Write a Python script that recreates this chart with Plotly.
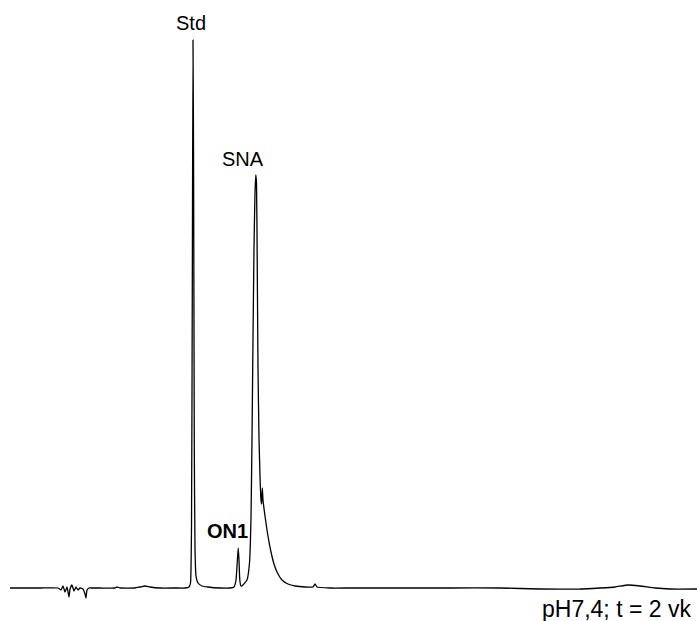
import plotly.graph_objects as go

# retention position (arbitrary units) and detector signal (arbitrary units)
time = [10, 40, 58, 61, 63, 65, 67, 69, 70, 72, 74, 76, 78, 80, 83, 85, 86, 87, 89, 92, 100, 115, 117, 120,
        135, 140, 145, 150, 160, 175, 185, 189, 190.5, 191.5, 192.3, 193.0, 193.6, 194.3, 195.0, 196.0, 198, 202, 208,
        220, 230, 234, 236, 237.2, 238.2, 239.0, 239.8, 241, 243, 247, 249.5, 251, 252, 253, 254, 255, 255.8,
        256.5, 257.2, 258.0, 259.0, 260.0, 261.0, 261.6, 262.3, 263.0, 265, 267, 269, 271, 274, 277, 282, 288, 295, 305,
        313, 315, 317, 330, 350, 400, 450, 500, 540, 580, 600, 615, 628, 640, 655, 670, 697]
signal = [0, 0, 0, -2, 2, -4, 1, -9, -1, 3, -3, 1, -2, 0, -1, -6, -10, -2, 0, 0, 0, 0, 1, 0,
          0, 1, 2, 1, 0, 0, 0, 1, 5, 60, 300, 548, 420, 140, 40, 12, 5, 2, 1,
          0, 0, 1, 8, 25, 40, 28, 8, 2, 3, 8, 25, 70, 150, 250, 340, 395, 413,
          405, 330, 220, 150, 112, 88, 84, 100, 88, 72, 58, 46, 36, 24, 16, 8, 4, 2, 1,
          1, 4, 1, 0, 0, 0, 0, 0, -1, -1, 0, 1, 3, 2, 0, -1, -1]

labels = ["Std", "SNA", "ON1"]
label_x = [191, 243, 227]
label_y = [565, 429, 57]
label_bold = [False, False, True]
footer = "pH7,4; t = 2 vk"

FONT = "Liberation Sans, Arial"

fig = go.Figure()
fig.add_trace(go.Scatter(x=time, y=signal, mode="lines",
                         line=dict(color="black", width=1.3, shape="spline", smoothing=0.4),
                         hoverinfo="skip", showlegend=False))

for t, xx, yy, b in zip(labels, label_x, label_y, label_bold):
    fig.add_annotation(x=xx, y=yy, text=f"<b>{t}</b>" if b else t, showarrow=False,
                       font=dict(family=FONT, size=20, color="black"),
                       xanchor="center", yanchor="middle")

fig.add_annotation(x=616, y=-21, text=footer, showarrow=False,
                   font=dict(family=FONT, size=23, color="black"),
                   xanchor="center", yanchor="middle")

fig.update_layout(
    width=697, height=621,
    margin=dict(l=0, r=0, t=0, b=0),
    paper_bgcolor="white", plot_bgcolor="white",
    xaxis=dict(range=[0, 697], visible=False, fixedrange=True),
    yaxis=dict(range=[-33, 588], visible=False, fixedrange=True),
)

fig.write_html("out.html")
